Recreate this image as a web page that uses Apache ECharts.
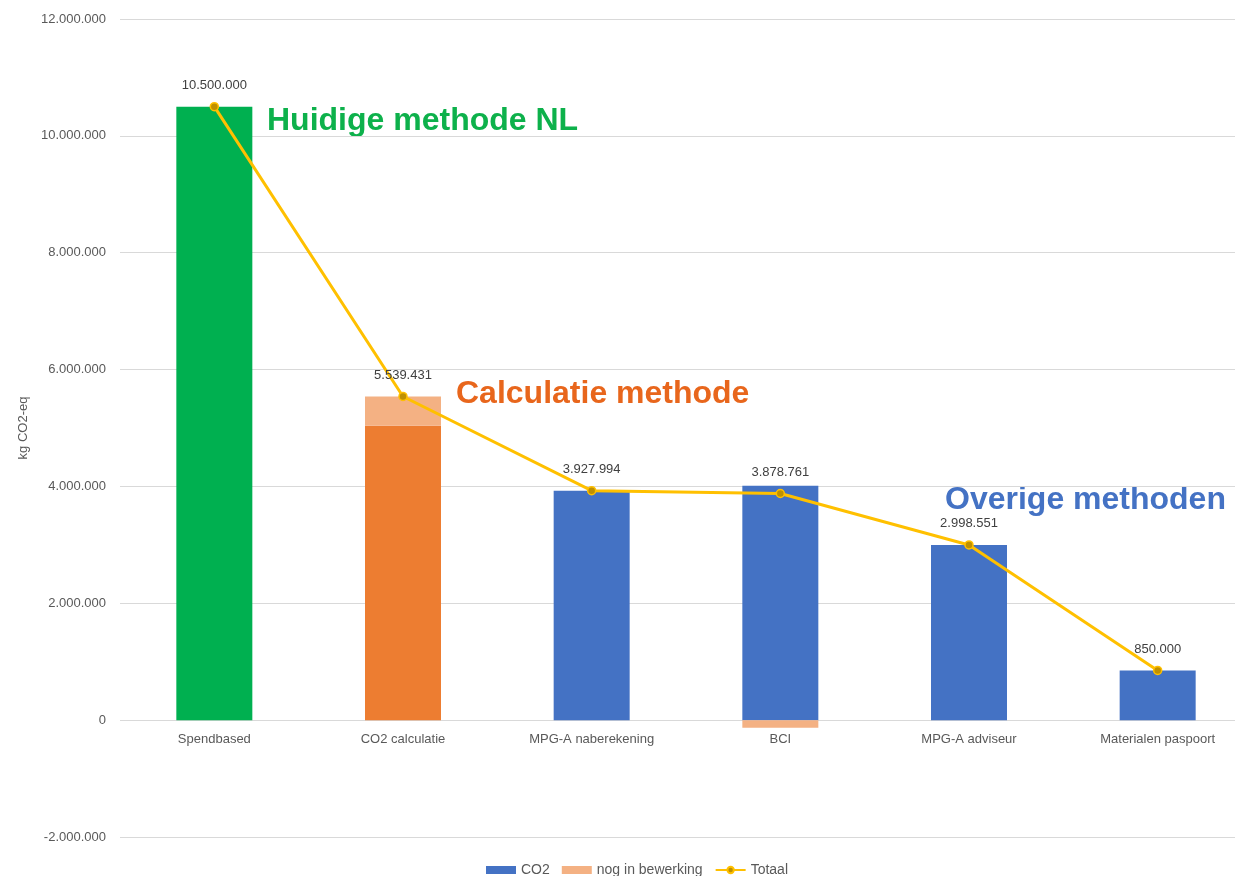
<!DOCTYPE html>
<html>
<head>
<meta charset="utf-8">
<script src="https://cdn.jsdelivr.net/npm/echarts@6/dist/echarts.min.js"></script>
<style>
  html, body { margin: 0; padding: 0; background: #fff; }
  #main { width: 1235px; height: 876px; }
</style>
</head>
<body>
<div id="main"></div>
<script>
// data
var categories = ['Spendbased', 'CO2 calculatie', 'MPG-A naberekening', 'BCI', 'MPG-A adviseur', 'Materialen paspoort']
var co2Values = [10500000, 5040000, 3927994, 4010000, 2998551, 850000]
var nogValues = [0, 499431, 0, -131239, 0, 0]
var totaalValues = [10500000, 5539431, 3927994, 3878761, 2998551, 850000]
var co2Colors = ['#00B050', '#ED7D31', '#4472C4', '#4472C4', '#4472C4', '#4472C4']

// punt als duizendtal-scheiding
function fmt(v) {
  var s = String(Math.abs(Math.round(v))).replace(/\B(?=(\d{3})+(?!\d))/g, '.')
  return (v < 0 ? '-' : '') + s
}

var myChart = echarts.init(document.getElementById('main'))
var font = 'Liberation Sans'
var option = {
  animation: false,
  textStyle: { fontFamily: font },
  // grid 0: de grafiek, grid 1: alleen voor de categorie-labels op de nul-lijn
  grid: [
    { left: 120, top: 19, width: 1132, height: 818, outerBoundsMode: 'none' },
    { left: 120, top: 19, width: 1132, height: 701, outerBoundsMode: 'none' }
  ],
  legend: {
    bottom: -6,
    left: 481,
    itemGap: 12,
    itemWidth: 30,
    itemHeight: 8,
    textStyle: { color: '#595959', fontSize: 14, fontFamily: font },
    data: [
      { name: 'CO2', icon: 'rect' },
      { name: 'nog in bewerking', icon: 'rect' },
      { name: 'Totaal' }
    ]
  },
  xAxis: [
    {
      type: 'category',
      gridIndex: 0,
      data: categories,
      axisLine: { show: false },
      axisTick: { show: false },
      axisLabel: { show: false }
    },
    {
      type: 'category',
      gridIndex: 1,
      data: categories,
      axisLine: { show: false },
      axisTick: { show: false },
      axisLabel: { color: '#595959', fontSize: 13, margin: 13 }
    }
  ],
  yAxis: [
    {
      type: 'value',
      gridIndex: 0,
      min: -2000000,
      max: 12000000,
      interval: 2000000,
      name: 'kg CO2-eq',
      nameLocation: 'middle',
      nameGap: 84,
      nameTextStyle: { color: '#595959', fontSize: 13 },
      axisLabel: { color: '#595959', fontSize: 13, margin: 14, formatter: fmt },
      splitLine: { lineStyle: { color: '#D9D9D9' } }
    },
    {
      type: 'value',
      gridIndex: 1,
      show: false,
      splitLine: { show: false }
    }
  ],
  series: [
    {
      name: 'CO2',
      type: 'bar',
      stack: 'a',
      barWidth: 76,
      itemStyle: { color: '#4472C4' },
      data: co2Values.map(function (v, i) {
        return { value: v, itemStyle: { color: co2Colors[i] } }
      })
    },
    {
      name: 'nog in bewerking',
      type: 'bar',
      stack: 'a',
      barWidth: 76,
      itemStyle: { color: '#F4B183' },
      data: nogValues
    },
    {
      name: 'Totaal',
      type: 'line',
      data: totaalValues,
      symbol: 'circle',
      symbolSize: 8,
      lineStyle: { color: '#FFC000', width: 3 },
      itemStyle: { color: '#BF9000', borderColor: '#FFC000', borderWidth: 1.5 },
      label: {
        show: true,
        position: 'top',
        distance: 10,
        color: '#404040',
        fontSize: 13,
        formatter: function (p) { return fmt(p.value) }
      },
      z: 5
    }
  ],
  graphic: [
    { type: 'text', left: 267, top: 105, style: { text: 'Huidige methode NL', fill: '#0DB14B', font: 'bold 32px "Liberation Sans"' } },
    { type: 'text', left: 456, top: 378, style: { text: 'Calculatie methode', fill: '#E8661C', font: 'bold 32px "Liberation Sans"' } },
    { type: 'text', left: 945, top: 484, style: { text: 'Overige methoden', fill: '#4472C4', font: 'bold 32px "Liberation Sans"' } }
  ]
}
myChart.setOption(option)
</script>
</body>
</html>
